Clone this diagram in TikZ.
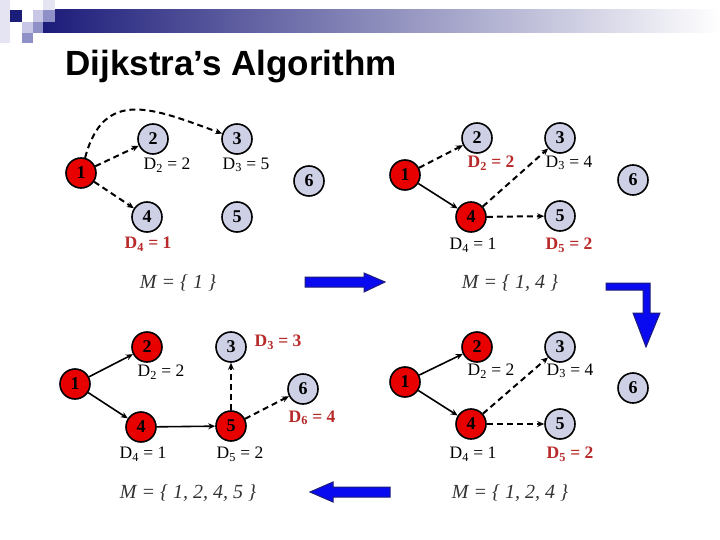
\documentclass[tikz,border=0pt]{standalone}
\usepackage{fontspec}
\setmainfont{Liberation Serif}
\newfontfamily\titlefont{Liberation Sans}
\usetikzlibrary{positioning,arrows.meta}
\definecolor{lavender}{HTML}{CED0E6}
\definecolor{hitred}{HTML}{E80000}
\definecolor{labelred}{HTML}{B82A2A}
\definecolor{navy}{HTML}{1C1C7A}
\definecolor{arrowblue}{HTML}{0A0AF0}
\definecolor{sqpale}{HTML}{E4E4F2}
\definecolor{sqlight}{HTML}{C8C8E6}
\definecolor{sqmid}{HTML}{9090C8}
\tikzset{
    vertex/.style={
        circle,
        draw,
        line width=1.6pt,
        minimum size=30pt,
        inner sep=0pt,
        fill=lavender,
        font=\fontsize{18}{18}\selectfont\bfseries
    },
    done/.style={
        vertex,
        fill=hitred
    },
    dist/.style={
        font=\fontsize{17.5}{17.5}\selectfont
    },
    newdist/.style={
        dist,
        text=labelred,
        font=\fontsize{17.5}{17.5}\selectfont\bfseries
    },
    mset/.style={
        font=\fontsize{20}{20}\selectfont\itshape,
        text=black!80
    },
    fixed/.style={
        -{Stealth[length=7pt,width=6pt]},
        line width=1.6pt
    },
    trial/.style={
        fixed,
        line width=2pt,
        dash pattern=on 6pt off 4pt
    },
    turn/.style={
        draw=navy,
        fill=arrowblue,
        line width=1pt
    }
}

\begin{document}
\begin{tikzpicture}[x=1pt,y=1pt]

    \fill[white] (0,0) rectangle (720,-540);
    \useasboundingbox (0,0) rectangle (720,-540);

    \shade[left color=navy, right color=white] (43,-10) rectangle (720,-33);
    \fill[sqpale] (0,0) rectangle (10,-43);
    \fill[navy] (10,-10) rectangle (22,-22);
    \fill[sqlight] (22,-22) rectangle (33,-33);
    \fill[sqmid] (22,-33) rectangle (33,-43);
    \fill[sqlight] (33,-10) rectangle (43,-22);
    \fill[sqmid] (33,-22) rectangle (43,-33);
    \fill[sqpale] (43,0) rectangle (55,-10);
    \fill[sqmid] (43,-10) rectangle (55,-22);

    \node[anchor=base west, font=\titlefont\fontsize{35}{35}\selectfont\bfseries] (title) at (62,-76) {Dijkstra’s Algorithm};

    \node[done] (a1) at (81,-173) {1};
    \node[vertex] (a2) at (153,-139) {2};
    \node[vertex] (a3) at (237,-139) {3};
    \node[vertex] (a4) at (147,-217) {4};
    \node[vertex] (a5) at (237,-217) {5};
    \node[vertex] (a6) at (309,-181) {6};
    \node[dist] (ad2) at (167,-165) {D\textsubscript{2} = 2};
    \node[dist] (ad3) at (246,-165) {D\textsubscript{3} = 5};
    \node[newdist] (ad4) at (148,-244) {D\textsubscript{4} = 1};
    \node[mset] (am) at (178,-283) {M = \{ 1 \}};

    \draw[trial] (a1) -- (a2);
    \draw[trial] (a1) -- (a4);
    \draw[trial] (a1) to[out=75, in=160, looseness=1.35] (a3);

    \node[done] (b1) at (405,-175) {1};
    \node[vertex] (b2) at (477,-138) {2};
    \node[vertex] (b3) at (560,-138) {3};
    \node[done] (b4) at (471,-217) {4};
    \node[vertex] (b5) at (560,-216) {5};
    \node[vertex] (b6) at (633,-180) {6};
    \node[newdist] (bd2) at (491,-163) {D\textsubscript{2} = 2};
    \node[dist] (bd3) at (569,-163) {D\textsubscript{3} = 4};
    \node[dist] (bd4) at (473,-245) {D\textsubscript{4} = 1};
    \node[newdist] (bd5) at (569,-245) {D\textsubscript{5} = 2};
    \node[mset] (bm) at (510,-283) {M = \{ 1, 4 \}};

    \draw[trial] (b1) -- (b2);
    \draw[fixed] (b1) -- (b4);
    \draw[trial] (b4) -- (b3);
    \draw[trial] (b4) -- (b5);

    \node[done] (c1) at (405,-382) {1};
    \node[done] (c2) at (477,-347) {2};
    \node[vertex] (c3) at (560,-347) {3};
    \node[done] (c4) at (471,-424) {4};
    \node[vertex] (c5) at (560,-424) {5};
    \node[vertex] (c6) at (633,-388) {6};
    \node[dist] (cd2) at (491,-371) {D\textsubscript{2} = 2};
    \node[dist] (cd3) at (570,-371) {D\textsubscript{3} = 4};
    \node[dist] (cd4) at (473,-454) {D\textsubscript{4} = 1};
    \node[newdist] (cd5) at (570,-454) {D\textsubscript{5} = 2};
    \node[mset] (cm) at (510,-493) {M = \{ 1, 2, 4 \}};

    \draw[fixed] (c1) -- (c2);
    \draw[fixed] (c1) -- (c4);
    \draw[trial] (c4) -- (c3);
    \draw[trial] (c4) -- (c5);

    \node[done] (d1) at (75,-384) {1};
    \node[done] (d2) at (147,-347) {2};
    \node[vertex] (d3) at (231,-347) {3};
    \node[done] (d4) at (141,-427) {4};
    \node[done] (d5) at (231,-426) {5};
    \node[vertex] (d6) at (303,-389) {6};
    \node[newdist] (dd3) at (278,-342) {D\textsubscript{3} = 3};
    \node[dist] (dd2) at (161,-372) {D\textsubscript{2} = 2};
    \node[newdist] (dd6) at (312,-418) {D\textsubscript{6} = 4};
    \node[dist] (dd4) at (143,-454) {D\textsubscript{4} = 1};
    \node[dist] (dd5) at (240,-454) {D\textsubscript{5} = 2};
    \node[mset] (dm) at (188,-493) {M = \{ 1, 2, 4, 5 \}};

    \draw[fixed] (d1) -- (d2);
    \draw[fixed] (d1) -- (d4);
    \draw[fixed] (d4) -- (d5);
    \draw[trial] (d5) -- (d3);
    \draw[trial] (d5) -- (d6);

    \filldraw[turn] (305,-277) -- (364,-277) -- (364,-273) -- (385,-282) -- (364,-292) -- (364,-287) -- (305,-287) -- cycle;
    \filldraw[turn] (606,-283) -- (650,-283) -- (650,-313) -- (660,-313) -- (646,-347) -- (633,-313) -- (643,-313) -- (643,-290) -- (606,-290) -- cycle;
    \filldraw[turn] (390,-487) -- (333,-487) -- (333,-482) -- (310,-492) -- (333,-502) -- (333,-497) -- (390,-497) -- cycle;

\end{tikzpicture}
\end{document}
